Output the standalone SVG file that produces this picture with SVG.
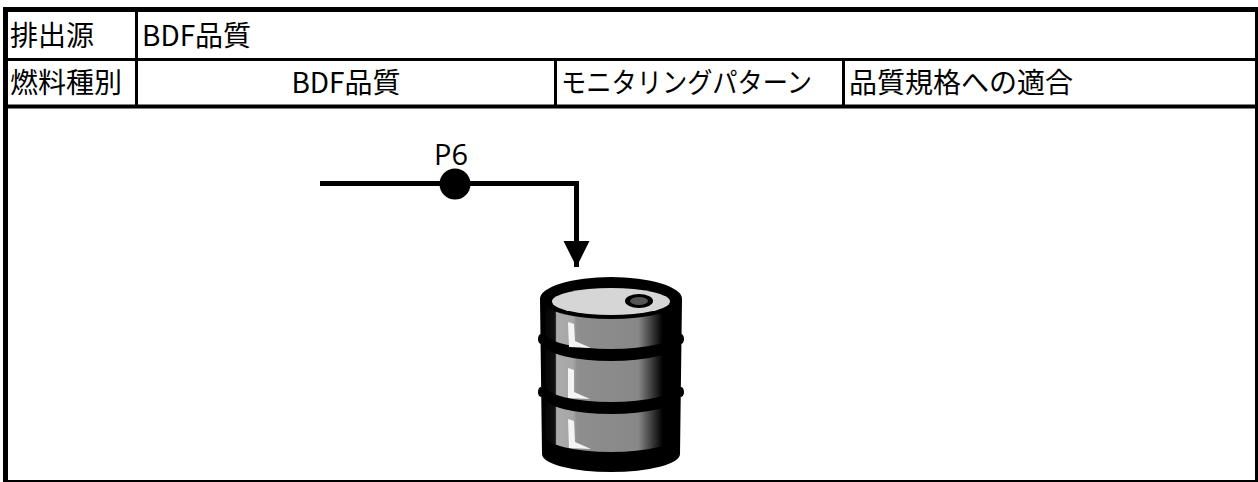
<svg xmlns="http://www.w3.org/2000/svg" width="1258" height="482" viewBox="0 0 1258 482">
  <style>
    .cell { font-family: "Noto Sans CJK JP", "Noto Sans", sans-serif; font-size: 28px; fill: #000; }
    .lbl { font-family: "Open Sans", "Noto Sans", sans-serif; font-size: 29px; fill: #000; }
    .rule { stroke: #000; fill: none; }
    .pipe { stroke: #000; stroke-width: 5; fill: none; }
  </style>
  <defs>
    <marker id="arrow" viewBox="0 0 26 27" refX="26" refY="13" markerWidth="26" markerHeight="27" markerUnits="userSpaceOnUse" orient="auto">
      <path d="M0,0 L26,13 L0,26 Z" fill="#000"/>
    </marker>
    <linearGradient id="band" gradientUnits="userSpaceOnUse" x1="543" y1="0" x2="679" y2="0">
      <stop offset="0" stop-color="#000"/>
      <stop offset="0.09" stop-color="#111"/>
      <stop offset="0.1" stop-color="#ababab"/>
      <stop offset="0.22" stop-color="#a6a6a6"/>
      <stop offset="0.25" stop-color="#8e8e8e"/>
      <stop offset="0.7" stop-color="#888"/>
      <stop offset="0.8" stop-color="#3c3c3c"/>
      <stop offset="0.88" stop-color="#000"/>
      <stop offset="1" stop-color="#000"/>
    </linearGradient>
  </defs>

  <rect width="1258" height="482" fill="#fff"/>

  <!-- header table -->
  <g id="table">
    <line class="rule" x1="3" y1="9.5" x2="1258" y2="9.5" stroke-width="5"/>
    <line class="rule" x1="5.5" y1="7" x2="5.5" y2="482" stroke-width="5"/>
    <line class="rule" x1="1256.5" y1="7" x2="1256.5" y2="482" stroke-width="3"/>
    <line class="rule" x1="3" y1="481" x2="1258" y2="481" stroke-width="2"/>
    <line class="rule" x1="3" y1="59.5" x2="1258" y2="59.5" stroke-width="3"/>
    <line class="rule" x1="3" y1="106.5" x2="1258" y2="106.5" stroke-width="4"/>
    <line class="rule" x1="136.5" y1="7" x2="136.5" y2="108" stroke-width="3"/>
    <line class="rule" x1="555.5" y1="58" x2="555.5" y2="108" stroke-width="3"/>
    <line class="rule" x1="843.5" y1="58" x2="843.5" y2="108" stroke-width="3"/>

    <text class="cell" x="10" y="46">排出源</text>
    <text class="cell" x="142" y="46">BDF品質</text>
    <text class="cell" x="10" y="93">燃料種別</text>
    <text class="cell" x="346" y="93" text-anchor="middle">BDF品質</text>
    <text class="cell" x="561" y="93" textLength="251" lengthAdjust="spacingAndGlyphs">モニタリングパターン</text>
    <text class="cell" x="849" y="93">品質規格への適合</text>
  </g>

  <!-- flow line into the drum -->
  <g id="connectors">
    <path class="pipe" d="M320,183.5 H576.5 V267" marker-end="url(#arrow)"/>
  </g>

  <!-- sampling point P6 -->
  <g id="p6">
    <circle cx="455" cy="184" r="15.5" fill="#000"/>
    <text class="lbl" x="451" y="165" text-anchor="middle">P6</text>
  </g>

  <!-- fuel drum -->
  <g id="drum">
    <!-- body silhouette -->
    <path d="M540,299 A71,22 0 0 1 682,299 L680,454 A69,18 0 0 1 542,454 Z" fill="#000"/>
    <!-- hoop bulges -->
    <g fill="#000">
      <ellipse cx="541" cy="339" rx="3" ry="5"/>
      <ellipse cx="681" cy="339" rx="3" ry="5"/>
      <ellipse cx="541" cy="392" rx="3" ry="5"/>
      <ellipse cx="681" cy="392" rx="3" ry="5"/>
    </g>
    <!-- lid -->
    <ellipse cx="611" cy="301.5" rx="59" ry="13.5" fill="#d6d6d6"/>
    <ellipse cx="639" cy="301" rx="14" ry="7" fill="#000"/>
    <ellipse cx="639" cy="301" rx="9" ry="4" fill="#555"/>
    <!-- painted bands -->
    <g fill="url(#band)">
      <path d="M545,303 A66,16 0 0 0 677,303 L677,333 A66,16 0 0 1 545,333 Z"/>
      <path d="M545,345 A66,16 0 0 0 677,345 L677,386 A66,16 0 0 1 545,386 Z"/>
      <path d="M545,398 A66,16 0 0 0 677,398 L677,436 A66,16 0 0 1 545,436 Z"/>
    </g>
    <!-- highlights -->
    <g fill="#f4f4f4">
      <path d="M568,322 L574,324 L575,341 L591,348 L569,347 Z"/>
      <path d="M568,368 L574,370 L574,392 L590,399 L568,398 Z"/>
      <path d="M568,419 L574,421 L575,442 L591,449 L569,448 Z"/>
    </g>
  </g>
</svg>
